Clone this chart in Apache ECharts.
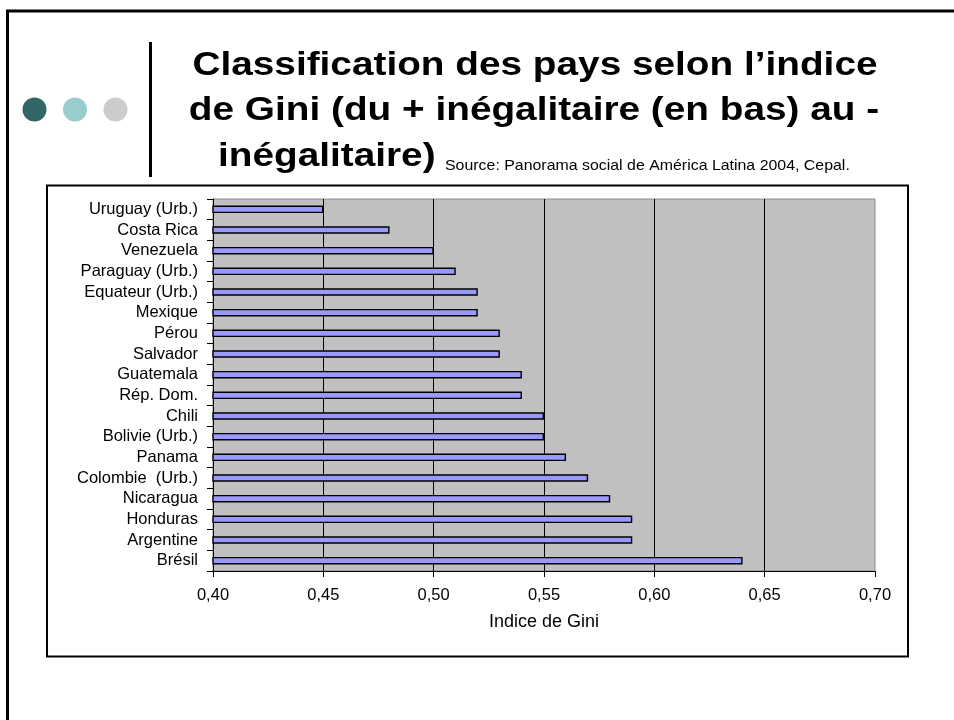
<!DOCTYPE html>
<html lang="fr">
<head>
<meta charset="utf-8">
<title>Classification des pays selon l'indice de Gini</title>
<script src="https://cdn.jsdelivr.net/npm/echarts@6/dist/echarts.min.js"></script>
<style>
  html, body { margin: 0; padding: 0; background: #fff; }
  #chart { width: 954px; height: 720px; }
</style>
</head>
<body>
<div id="chart"></div>
<script>
// 国家（从上到下：不平等程度从低到高）
const countries = [
  'Uruguay (Urb.)', 'Costa Rica', 'Venezuela', 'Paraguay (Urb.)', 'Equateur (Urb.)',
  'Mexique', 'Pérou', 'Salvador', 'Guatemala', 'Rép. Dom.', 'Chili', 'Bolivie (Urb.)',
  'Panama', 'Colombie  (Urb.)', 'Nicaragua', 'Honduras', 'Argentine', 'Brésil'
]
// 基尼系数
const giniValues = [
  0.45, 0.48, 0.50, 0.51, 0.52, 0.52, 0.53, 0.53, 0.54,
  0.54, 0.55, 0.55, 0.56, 0.57, 0.58, 0.59, 0.59, 0.64
]
// 横轴刻度
const giniTicks = [0.40, 0.45, 0.50, 0.55, 0.60, 0.65, 0.70]

const titleLines = [
  'Classification des pays selon l’indice',
  'de Gini (du + inégalitaire (en bas) au -',
  'inégalitaire)'
]
const sourceText = 'Source: Panorama social de América Latina 2004, Cepal.'

const FONT = '"Liberation Sans", Arial, sans-serif'

const chart = echarts.init(document.getElementById('chart'))

const titleText = (text, x, y, align) => ({
  type: 'text',
  x: x,
  y: y,
  scaleX: 1.14,
  style: {
    text: text,
    fontSize: 34,
    fontWeight: 'bold',
    fontFamily: FONT,
    fill: '#000',
    align: align,
    textAlign: align,
    verticalAlign: 'middle',
    textVerticalAlign: 'middle'
  }
})

const option = {
  animation: false,
  backgroundColor: '#fff',
  graphic: [
    // 幻灯片边框
    {
      type: 'polyline',
      shape: { points: [[7.5, 730], [7.5, 11], [960, 11]] },
      style: { stroke: '#000', lineWidth: 3, fill: null }
    },
    // 三个圆点
    { type: 'circle', shape: { cx: 34.5, cy: 109.5, r: 12 }, style: { fill: '#336666' } },
    { type: 'circle', shape: { cx: 75, cy: 109.5, r: 12 }, style: { fill: '#99cccc' } },
    { type: 'circle', shape: { cx: 115.5, cy: 109.5, r: 12 }, style: { fill: '#cccccc' } },
    // 竖线
    {
      type: 'line',
      shape: { x1: 150.5, y1: 42, x2: 150.5, y2: 177 },
      style: { stroke: '#000', lineWidth: 3 }
    },
    // 图表外框
    {
      type: 'rect',
      shape: { x: 47, y: 185.5, width: 861, height: 471 },
      style: { stroke: '#000', lineWidth: 2, fill: null }
    },
    titleText(titleLines[0], 535, 66, 'center'),
    titleText(titleLines[1], 534, 111, 'center'),
    titleText(titleLines[2], 218, 157, 'left'),
    {
      type: 'text',
      x: 445,
      y: 166,
      scaleX: 1.06,
      style: {
        text: sourceText,
        fontSize: 15,
        fontFamily: FONT,
        fill: '#000',
        align: 'left',
        textAlign: 'left',
        verticalAlign: 'middle',
        textVerticalAlign: 'middle'
      }
    }
  ],
  grid: {
    left: 213,
    right: 79,
    top: 199,
    bottom: 149,
    show: true,
    backgroundColor: '#c0c0c0',
    borderColor: '#8c8c8c',
    borderWidth: 1
  },
  xAxis: {
    type: 'value',
    min: giniTicks[0],
    max: giniTicks[giniTicks.length - 1],
    interval: 0.05,
    name: 'Indice de Gini',
    nameLocation: 'middle',
    nameGap: 42,
    nameTextStyle: { color: '#000', fontSize: 18, fontFamily: FONT },
    axisLine: { show: true, lineStyle: { color: '#000', width: 1 } },
    axisTick: { show: true, length: 6, lineStyle: { color: '#000' } },
    axisLabel: {
      color: '#000',
      fontSize: 16.5,
      fontFamily: FONT,
      margin: 16,
      formatter: (v) => v.toFixed(2).replace('.', ',')
    },
    splitLine: {
      show: true,
      showMaxLine: false,
      lineStyle: { color: '#000', width: 1 }
    }
  },
  yAxis: {
    type: 'category',
    data: countries,
    inverse: true,
    axisLine: { show: true, lineStyle: { color: '#000', width: 1 } },
    axisTick: { show: true, length: 6, lineStyle: { color: '#000' } },
    axisLabel: {
      color: '#000',
      fontSize: 16.5,
      fontFamily: FONT,
      margin: 15,
      interval: 0
    },
    splitLine: { show: false }
  },
  series: [
    {
      name: 'Indice de Gini',
      type: 'bar',
      data: giniValues,
      barWidth: 7.5,
      itemStyle: {
        color: '#9999ff',
        borderColor: '#000',
        borderWidth: 1.4
      }
    }
  ]
}

chart.setOption(option)
</script>
</body>
</html>
